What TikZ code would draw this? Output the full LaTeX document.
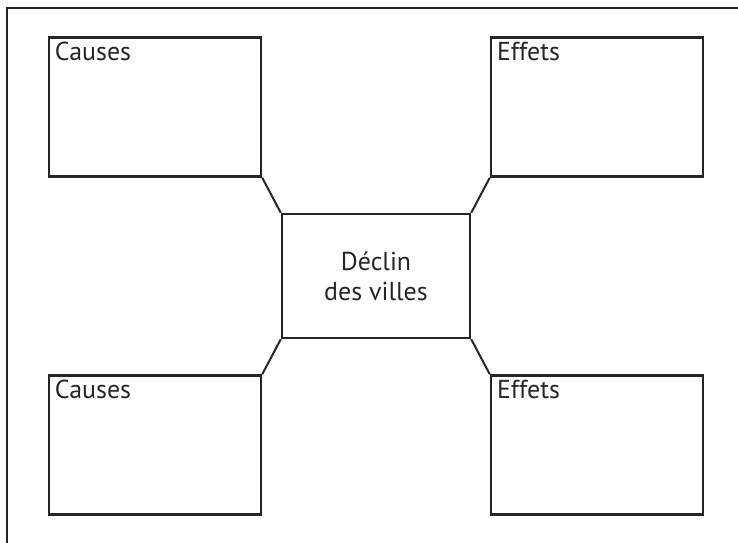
\documentclass[tikz,border=0pt]{standalone}
\usepackage{fontspec}
\setmainfont{PT Sans}
\usetikzlibrary{positioning}

\begin{document}
\begin{tikzpicture}[x=1bp, y=-1bp, node distance=169bp and 221bp, on grid,
    boite/.style={draw, line width=2.4bp, minimum width=212bp, minimum height=139bp,
        inner sep=0pt, color=black!85},
    titre/.style={anchor=north west, inner sep=0pt, xshift=7bp, yshift=-6bp,
        font=\fontsize{26}{30}\selectfont, text=black!85},
    lien/.style={line width=2bp, color=black!85}]

    \useasboundingbox (0,0) rectangle (738,543);

    % Cadre
    \draw[line width=2.4bp, color=black!85] (7,543) -- (7,8) -- (738,8);

    % Noeud central
    \node[boite, minimum width=188bp, minimum height=124bp, align=center,
        font=\fontsize{26}{30}\selectfont, text=black!85] (dec) at (376,276)
        {D\'eclin\\des villes};

    % Causes et effets
    \node[boite, above left=of dec] (c1) {};
    \node[boite, above right=of dec] (e1) {};
    \node[boite, below left=of dec] (c2) {};
    \node[boite, below right=of dec] (e2) {};

    \node[titre] (tc1) at (c1.north west) {Causes};
    \node[titre] (te1) at (e1.north west) {Effets};
    \node[titre] (tc2) at (c2.north west) {Causes};
    \node[titre] (te2) at (e2.north west) {Effets};

    % Liens
    \draw[lien] (c1.south east) -- (dec.north west);
    \draw[lien] (e1.south west) -- (dec.north east);
    \draw[lien] (c2.north east) -- (dec.south west);
    \draw[lien] (e2.north west) -- (dec.south east);

\end{tikzpicture}
\end{document}
